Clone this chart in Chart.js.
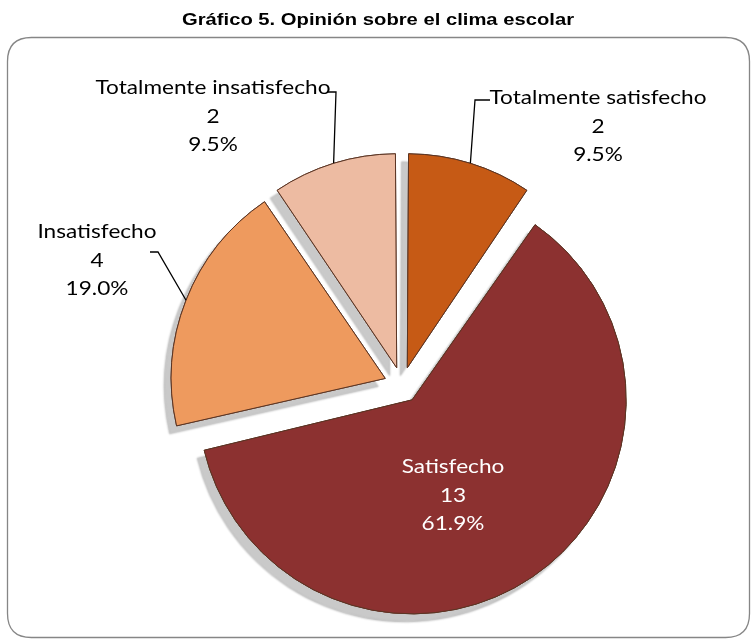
<!DOCTYPE html>
<html><head><meta charset="utf-8">
<script src="https://cdn.jsdelivr.net/npm/chart.js@4/dist/chart.umd.min.js"></script>
<style>html,body{margin:0;padding:0;background:#fff;overflow:hidden}</style>
</head><body>
<canvas id="c" width="754" height="641"></canvas>
<script>
// ---- data ----
const chartTitle = 'Gráfico 5. Opinión sobre el clima escolar';
const categories = ['Totalmente satisfecho', 'Satisfecho', 'Insatisfecho', 'Totalmente insatisfecho'];
const counts = [2, 13, 4, 2];
const sliceColors = ['#C65A15', '#8C3130', '#EE9A5E', '#EDBBA2'];

// ---- layout / style ----
const R = 214;          // pie radius
const EXPLODE = 18;     // slice displacement in px
const total = counts.reduce((a, b) => a + b, 0);
const pct = counts.map(v => (v / total * 100).toFixed(1) + '%');

const labelLayout = [
  { x: 598, y: 98, color: '#000', path: [[475, 100], [490, 100]] },
  { x: 453, y: 467, color: '#fff', path: null },
  { x: 97, y: 232, color: '#000', path: [[158, 252], [150, 252]] },
  { x: 213, y: 88, color: '#000', path: [[336, 92], [327, 92]] }
];

function scaledText(ctx, txt, x, y, sx) {
  ctx.save();
  ctx.translate(x, y);
  ctx.scale(sx, 1);
  ctx.fillText(txt, 0, 0);
  ctx.restore();
}

const framePlugin = {
  id: 'frame',
  beforeDraw(chart) {
    const ctx = chart.ctx;
    ctx.save();
    ctx.fillStyle = '#fff';
    ctx.fillRect(0, 0, chart.width, chart.height);
    const x0 = 7.5, y0 = 37.5, x1 = 749.5, y1 = 637.5, r = 24;
    ctx.beginPath();
    ctx.moveTo(x0 + r, y0);
    ctx.lineTo(x1 - r, y0);
    ctx.quadraticCurveTo(x1, y0, x1, y0 + r);
    ctx.lineTo(x1, y1 - r);
    ctx.quadraticCurveTo(x1, y1, x1 - r, y1);
    ctx.lineTo(x0 + r, y1);
    ctx.quadraticCurveTo(x0, y1, x0, y1 - r);
    ctx.lineTo(x0, y0 + r);
    ctx.quadraticCurveTo(x0, y0, x0 + r, y0);
    ctx.closePath();
    ctx.strokeStyle = '#868686';
    ctx.lineWidth = 1.3;
    ctx.stroke();
    ctx.fillStyle = '#000';
    ctx.font = 'bold 17px "Liberation Sans", Arial, sans-serif';
    ctx.textAlign = 'center';
    ctx.textBaseline = 'middle';
    const sx = 392 / ctx.measureText(chartTitle).width;
    scaledText(ctx, chartTitle, 378, 20, sx);
    ctx.restore();
  }
};

const shadowPlugin = {
  id: 'shadowExplode',
  beforeDatasetsDraw(chart) {
    const meta = chart.getDatasetMeta(0);
    meta.data.forEach(arc => {
      const fix = 1 - Math.sin(Math.min(Math.PI, arc.circumference || 0));
      arc._origR = arc.outerRadius;
      arc.outerRadius = arc.outerRadius - EXPLODE * fix;
    });
    const ctx = chart.ctx;
    ctx.save();
    ctx.shadowColor = 'rgba(0,0,0,0.21)';
    ctx.shadowOffsetX = -7;
    ctx.shadowOffsetY = 8;
    ctx.shadowBlur = 2;
  },
  afterDatasetsDraw(chart) {
    const ctx = chart.ctx;
    ctx.restore();
    const meta = chart.getDatasetMeta(0);
    // redraw the slices without shadow, so the shadow only shows outside them
    meta.data.forEach(arc => arc.draw(ctx));
    meta.data.forEach(arc => { arc.outerRadius = arc._origR; });
  }
};

const labelPlugin = {
  id: 'sliceLabels',
  afterDraw(chart) {
    const ctx = chart.ctx;
    const meta = chart.getDatasetMeta(0);
    ctx.save();
    ctx.font = '19px Lato, "Open Sans", sans-serif';
    const sx = 235 / ctx.measureText('Totalmente insatisfecho').width;
    ctx.textAlign = 'center';
    ctx.textBaseline = 'middle';
    meta.data.forEach((arc, i) => {
      const L = labelLayout[i];
      const a = (arc.startAngle + arc.endAngle) / 2;
      const cx = arc.x + Math.cos(a) * EXPLODE;
      const cy = arc.y + Math.sin(a) * EXPLODE;
      if (L.path) {
        ctx.beginPath();
        ctx.moveTo(cx + Math.cos(a) * R, cy + Math.sin(a) * R);
        L.path.forEach(p => ctx.lineTo(p[0], p[1]));
        ctx.strokeStyle = '#000';
        ctx.lineWidth = 1.3;
        ctx.stroke();
      }
      ctx.fillStyle = L.color;
      const lines = [categories[i], String(counts[i]), pct[i]];
      lines.forEach((t, k) => scaledText(ctx, t, L.x, L.y + k * 28.5, sx));
    });
    ctx.restore();
  }
};

new Chart(document.getElementById('c'), {
  type: 'pie',
  data: {
    labels: categories,
    datasets: [{
      data: counts,
      backgroundColor: sliceColors,
      borderColor: '#5b3524',
      borderWidth: 1,
      offset: EXPLODE * 4
    }]
  },
  options: {
    responsive: false,
    animation: false,
    radius: R,
    events: [],
    layout: { padding: { left: 60, right: 10, top: 140, bottom: 11 } },
    plugins: { legend: { display: false }, tooltip: { enabled: false }, title: { display: false } }
  },
  plugins: [framePlugin, shadowPlugin, labelPlugin]
});
</script>
</body></html>
